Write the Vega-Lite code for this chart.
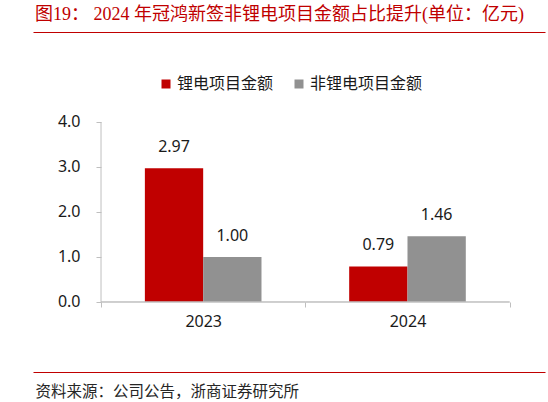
{
  "$schema": "https://vega.github.io/schema/vega-lite/v6.json",
  "width": 512,
  "height": 339.7,
  "autosize": {"type": "none"},
  "padding": {"left": 33, "top": 32, "right": 3, "bottom": 30.3},
  "config": {"view": {"stroke": null}, "font": "Noto Sans CJK SC"},
  "title": {
    "text": "图19：  2024 年冠鸿新签非锂电项目金额占比提升(单位：亿元)",
    "anchor": "start",
    "frame": "group",
    "dx": 2,
    "dy": 16.5,
    "offset": 11,
    "baseline": "alphabetic",
    "color": "#c00000",
    "font": "Liberation Serif, Noto Sans CJK SC",
    "fontSize": 18,
    "fontWeight": "normal"
  },
  "data": {
    "values": [
      {"year": "2023", "series": "锂电项目金额", "value": 2.97},
      {"year": "2023", "series": "非锂电项目金额", "value": 1.00},
      {"year": "2024", "series": "锂电项目金额", "value": 0.79},
      {"year": "2024", "series": "非锂电项目金额", "value": 1.46}
    ]
  },
  "layer": [
    {
      "mark": {"type": "bar"},
      "encoding": {
        "x": {
          "field": "year",
          "type": "nominal",
          "scale": {"paddingInner": 0, "paddingOuter": 0.253, "align": 0.658},
          "axis": {
            "orient": "bottom",
            "domain": false,
            "ticks": true,
            "tickBand": "extent",
            "tickSize": 5,
            "tickColor": "#bfbfbf",
            "labelAngle": 0,
            "labelFont": "Noto Sans",
            "labelFontSize": 16,
            "labelColor": "#1a1a1a",
            "labelPadding": 6,
            "offset": -69.7,
            "title": "资料来源：公司公告，浙商证券研究所",
            "titleX": 2,
            "titleY": 89.7,
            "titleAlign": "left",
            "titleBaseline": "middle",
            "titleFontSize": 15.5,
            "titleFontWeight": "normal",
            "titleColor": "#262626"
          }
        },
        "xOffset": {
          "field": "series",
          "type": "nominal",
          "sort": ["锂电项目金额", "非锂电项目金额"],
          "scale": {"paddingOuter": 0.752, "paddingInner": 0}
        },
        "y": {
          "field": "value",
          "type": "quantitative",
          "scale": {"domain": [-1.549, 6], "nice": false},
          "axis": {
            "orient": "left",
            "values": [-1.549, 0, 1, 2, 3, 4, 6],
            "labelExpr": "(datum.value < -1 || datum.value > 5) ? '' : format(datum.value, '.1f')",
            "domain": false,
            "grid": true,
            "gridColor": "#c00000",
            "gridWidth": 1,
            "gridOpacity": {"condition": {"test": "datum.value < -1 || datum.value > 5", "value": 1}, "value": 0},
            "ticks": true,
            "tickSize": 5,
            "tickColor": "#bfbfbf",
            "tickOpacity": {"condition": {"test": "datum.value < -1 || datum.value > 5", "value": 0}, "value": 1},
            "labelFont": "Noto Sans",
            "labelFontSize": 16,
            "labelColor": "#1a1a1a",
            "labelPadding": 16,
            "offset": -68,
            "title": null
          }
        },
        "color": {
          "field": "series",
          "type": "nominal",
          "scale": {"domain": ["锂电项目金额", "非锂电项目金额"], "range": ["#c00000", "#919191"]},
          "legend": {
            "orient": "none",
            "direction": "horizontal",
            "legendX": 125,
            "legendY": 44,
            "title": null,
            "symbolType": "square",
            "symbolSize": 81,
            "symbolStrokeWidth": 0,
            "labelFontSize": 16,
            "labelFont": "Noto Sans CJK SC",
            "labelColor": "#1a1a1a",
            "labelOffset": 3,
            "columnPadding": 17,
            "padding": 0
          }
        }
      }
    },
    {
      "transform": [{"filter": "datum.series == '锂电项目金额'"}],
      "mark": {"type": "bar", "fill": "transparent", "stroke": "#bfbfbf", "strokeWidth": 1},
      "encoding": {
        "x": {"field": "year", "type": "nominal"},
        "y": {"datum": 0, "type": "quantitative"},
        "y2": {"datum": 0}
      }
    },
    {
      "transform": [{"filter": "datum.year == '2023' && datum.series == '锂电项目金额'"}],
      "mark": {"type": "rule", "color": "#bfbfbf", "strokeWidth": 1},
      "encoding": {
        "x": {"field": "year", "type": "nominal", "bandPosition": 0},
        "y": {"datum": 0, "type": "quantitative"},
        "y2": {"datum": 4}
      }
    },
    {
      "mark": {"type": "text", "baseline": "alphabetic", "dy": -16, "font": "Noto Sans", "fontSize": 16, "color": "#1a1a1a"},
      "encoding": {
        "x": {"field": "year", "type": "nominal"},
        "xOffset": {"field": "series", "type": "nominal", "sort": ["锂电项目金额", "非锂电项目金额"]},
        "y": {"field": "value", "type": "quantitative"},
        "text": {"field": "value", "type": "quantitative", "format": ".2f"}
      }
    }
  ]
}
